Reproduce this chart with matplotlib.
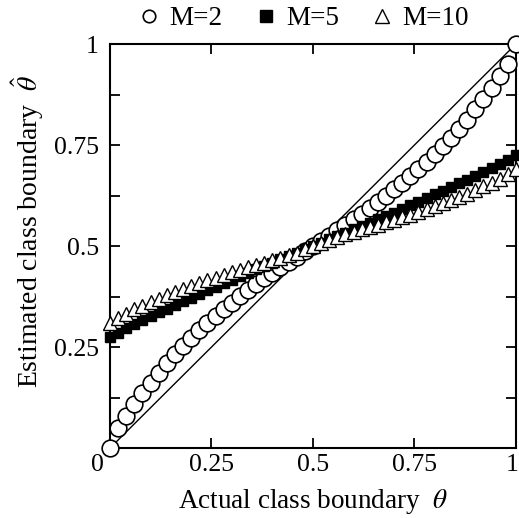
import numpy as np
import matplotlib
matplotlib.use("Agg")
from matplotlib import pyplot as plt
from matplotlib.lines import Line2D
from matplotlib.transforms import ScaledTranslation

plt.rcParams['font.family'] = ['Liberation Serif', 'DejaVu Serif']
plt.rcParams['mathtext.fontset'] = 'stix'

# actual boundary (x) and estimated boundary for each M
theta = [0.00, 0.02, 0.04, 0.06, 0.08, 0.10, 0.12, 0.14, 0.16, 0.18,
         0.20, 0.22, 0.24, 0.26, 0.28, 0.30, 0.32, 0.34, 0.36, 0.38,
         0.40, 0.42, 0.44, 0.46, 0.48, 0.50, 0.52, 0.54, 0.56, 0.58,
         0.60, 0.62, 0.64, 0.66, 0.68, 0.70, 0.72, 0.74, 0.76, 0.78,
         0.80, 0.82, 0.84, 0.86, 0.88, 0.90, 0.92, 0.94, 0.96, 0.98, 1.00]

est_m2 = [0.0, 0.05, 0.08, 0.11, 0.137, 0.162, 0.187, 0.21, 0.232, 0.253,
          0.273, 0.292, 0.31, 0.327, 0.344, 0.36, 0.376, 0.391, 0.406, 0.42,
          0.434, 0.448, 0.461, 0.474, 0.487, 0.5, 0.513, 0.526, 0.539, 0.552,
          0.566, 0.58, 0.594, 0.609, 0.624, 0.64, 0.656, 0.673, 0.69, 0.708,
          0.727, 0.747, 0.768, 0.79, 0.813, 0.838, 0.863, 0.89, 0.92, 0.95, 1.0]

est_m5 = [0.275, 0.286, 0.297, 0.307, 0.317, 0.327, 0.336, 0.345, 0.354, 0.363,
          0.372, 0.381, 0.39, 0.399, 0.408, 0.417, 0.425, 0.433, 0.442, 0.45,
          0.458, 0.467, 0.475, 0.483, 0.492, 0.5, 0.508, 0.517, 0.525, 0.533,
          0.542, 0.55, 0.558, 0.567, 0.575, 0.583, 0.592, 0.601, 0.61, 0.619,
          0.628, 0.637, 0.646, 0.655, 0.664, 0.673, 0.683, 0.693, 0.703, 0.714, 0.725]

est_m10 = [0.31, 0.322, 0.333, 0.343, 0.352, 0.361, 0.37, 0.378, 0.386, 0.394,
           0.401, 0.408, 0.415, 0.422, 0.429, 0.435, 0.441, 0.447, 0.453, 0.459,
           0.465, 0.471, 0.477, 0.484, 0.492, 0.5, 0.508, 0.516, 0.523, 0.529,
           0.535, 0.541, 0.547, 0.553, 0.559, 0.565, 0.571, 0.578, 0.585, 0.592,
           0.599, 0.606, 0.614, 0.622, 0.63, 0.639, 0.648, 0.657, 0.667, 0.678, 0.69]

tick_vals = [0, 0.25, 0.5, 0.75, 1]
tick_txt = ['0', '0.25', '0.5', '0.75', '1']

fig = plt.figure(figsize=(5.19, 5.18), dpi=100)
ax = fig.add_axes([0.212, 0.135, 0.782, 0.78])

ax.plot([0, 1], [0, 1], color='black', lw=1.0, zorder=1)
ax.plot(theta, est_m2, 'o', ms=12, mfc='white', mec='black', mew=1.2,
        clip_on=False, zorder=3)
ax.plot(theta, est_m5, 's', ms=7.5, mfc='black', mec='black', mew=1.0,
        clip_on=False, zorder=4)
ax.plot(theta, est_m10, '^', ms=9.5, mfc='white', mec='black', mew=1.0,
        clip_on=False, zorder=5)

ax.set_xlim(0, 1)
ax.set_ylim(0, 1)
ax.set_xticks(tick_vals)
ax.set_xticklabels(tick_txt)
ax.set_yticks(tick_vals)
ax.set_yticklabels([''] + tick_txt[1:])
ax.set_yticks([0.125, 0.375, 0.625, 0.875], minor=True)
ax.tick_params(which='both', direction='in', top=True, right=True,
               width=1.3, length=7, labelsize=18.5)
ax.tick_params(axis='x', pad=4)
ax.tick_params(axis='y', pad=8)
for s in ax.spines.values():
    s.set_linewidth(1.5)

# shared corner label "0" sits left of the origin, "1" kept inside the figure
xl = ax.get_xticklabels()
xl[0].set_transform(xl[0].get_transform() + ScaledTranslation(-0.13, 0, fig.dpi_scale_trans))
xl[-1].set_transform(xl[-1].get_transform() + ScaledTranslation(-0.04, 0, fig.dpi_scale_trans))

ax.set_xlabel(r'Actual class boundary  $\theta$', fontsize=19.5, labelpad=8)
ax.set_ylabel(r'Estimated class boundary  $\hat{\theta}$', fontsize=20)
ax.yaxis.set_label_coords(-0.158, 0.535)

handles = [
    Line2D([], [], ls='none', marker='o', ms=9, mfc='white', mec='black', mew=1.2),
    Line2D([], [], ls='none', marker='s', ms=8, mfc='black', mec='black'),
    Line2D([], [], ls='none', marker='^', ms=9.5, mfc='white', mec='black', mew=1.0),
]
fig.legend(handles, ['M=2', 'M=5', 'M=10'], loc='upper center',
           bbox_to_anchor=(0.58, 1.035), ncol=3, frameon=False, fontsize=19.5,
           handletextpad=0.15, columnspacing=1.0, handlelength=1.2)

fig.savefig('out.png', dpi=100)
